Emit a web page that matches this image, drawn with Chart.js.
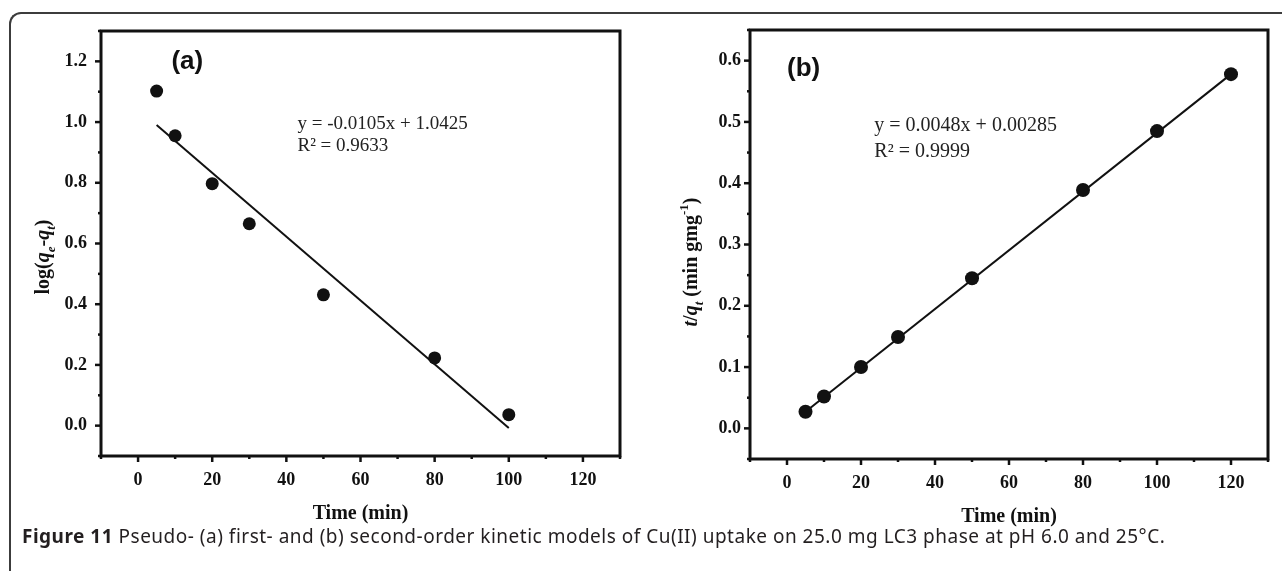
<!DOCTYPE html>
<html>
<head>
<meta charset="utf-8">
<script src="https://cdn.jsdelivr.net/npm/chart.js@4.4.0/dist/chart.umd.min.js"></script>
<style>
body { margin: 0; background: #fff; width: 1282px; height: 571px; overflow: hidden; position: relative; }
#frame { position: absolute; left: 9px; top: 12px; width: 1320px; height: 620px; border-top: 2px solid #3c3c3c; border-left: 2px solid #3c3c3c; border-top-left-radius: 12px; }
#chartA { position: absolute; left: 0; top: 0; }
#chartB { position: absolute; left: 640px; top: 0; }
#caption { position: absolute; left: 22px; top: 525px; font-family: "Noto Sans"; font-size: 19px; letter-spacing: 0.5px; line-height: 22px; color: #231f20; white-space: nowrap; }
</style>
</head>
<body>
<div id="frame"></div>
<canvas id="chartA" width="640" height="540"></canvas>
<canvas id="chartB" width="642" height="540"></canvas>
<div id="caption"><b>Figure 11</b> Pseudo- (a) first- and (b) second-order kinetic models of Cu(II) uptake on 25.0 mg LC3 phase at pH 6.0 and 25°C.</div>
<script>
// Panel (a): pseudo-first-order
const timeA = [5, 10, 20, 30, 50, 80, 100];
const logQ = [1.102, 0.955, 0.797, 0.665, 0.431, 0.223, 0.036];
const fitAx = [5, 100];
const fitAy = [0.99, -0.008];

// Panel (b): pseudo-second-order
const timeB = [5, 10, 20, 30, 50, 80, 100, 120];
const tOverQ = [0.027, 0.052, 0.100, 0.149, 0.245, 0.389, 0.485, 0.578];
const fitBx = [5, 120];
const fitBy = [0.027, 0.578];

// Tick labels
const xTickLabels = [0, 20, 40, 60, 80, 100, 120];
const yTickLabelsA = [0, 0.2, 0.4, 0.6, 0.8, 1.0, 1.2];
const yTickLabelsB = [0, 0.1, 0.2, 0.3, 0.4, 0.5, 0.6];

const serif = '"Liberation Serif", "Times New Roman", serif';
const ink = '#111';

const toPoints = (xs, ys) => xs.map((x, i) => ({ x: x, y: ys[i] }));
const has = (arr, v) => arr.some(a => Math.abs(a - v) < 1e-6);

// draws text with italic / sub / sup parts along a baseline
function richText(ctx, parts, size) {
    const fontFor = p => {
        const sz = (p.sub || p.sup) ? Math.round(size * 0.65) : size;
        return (p.i ? 'italic ' : '') + 'bold ' + sz + 'px ' + serif;
    };
    let w = 0;
    parts.forEach(p => { ctx.font = fontFor(p); w += ctx.measureText(p.t).width; });
    let x = -w / 2;
    parts.forEach(p => {
        ctx.font = fontFor(p);
        const dy = p.sub ? size * 0.28 : (p.sup ? -size * 0.45 : 0);
        ctx.fillText(p.t, x, dy);
        x += ctx.measureText(p.t).width;
    });
}

const panelPlugin = {
    id: 'panel',
    afterDraw(chart, args, opts) {
        const ctx = chart.ctx;
        const a = chart.chartArea;
        const xs = chart.scales.x, ys = chart.scales.y;
        ctx.save();
        ctx.fillStyle = ink;
        ctx.strokeStyle = ink;

        // tick marks (major long, minor short) pointing outward
        ctx.lineWidth = 2.5;
        xs.ticks.forEach(t => {
            const px = xs.getPixelForValue(t.value);
            const len = has(xTickLabels, t.value) ? 6 : 3;
            ctx.beginPath(); ctx.moveTo(px, a.bottom); ctx.lineTo(px, a.bottom + len); ctx.stroke();
        });
        ys.ticks.forEach(t => {
            const py = ys.getPixelForValue(t.value);
            const len = has(opts.yLabels, t.value) ? 6 : 3;
            ctx.beginPath(); ctx.moveTo(a.left, py); ctx.lineTo(a.left - len, py); ctx.stroke();
        });

        // frame
        ctx.lineWidth = 3;
        ctx.strokeRect(a.left, a.top, a.right - a.left, a.bottom - a.top);

        // x title
        ctx.font = 'bold 20px ' + serif;
        ctx.textAlign = 'center';
        ctx.textBaseline = 'middle';
        ctx.fillText('Time (min)', (a.left + a.right) / 2, a.bottom + 58);

        // y title (rotated)
        ctx.save();
        ctx.translate(opts.yTitleX, opts.yTitleY);
        ctx.rotate(-Math.PI / 2);
        ctx.textAlign = 'left';
        ctx.textBaseline = 'alphabetic';
        richText(ctx, opts.yTitle, 20);
        ctx.restore();

        // panel label
        ctx.textAlign = 'left';
        ctx.textBaseline = 'middle';
        ctx.font = 'bold 26px "Liberation Sans", Arial, sans-serif';
        ctx.fillText(opts.label, xs.getPixelForValue(opts.labelAt[0]), ys.getPixelForValue(opts.labelAt[1]));

        // regression equation
        ctx.fillStyle = '#222';
        ctx.font = opts.eqSize + 'px ' + serif;
        const ex = xs.getPixelForValue(opts.eqAt[0]);
        ctx.fillText(opts.eq, ex, ys.getPixelForValue(opts.eqAt[1]));
        ctx.fillText(opts.r2, ex, ys.getPixelForValue(opts.r2At));
        ctx.restore();
    }
};

function makeChart(id, cfg) {
    const tickFont = { family: serif, size: 18, weight: 'bold' };
    new Chart(document.getElementById(id), {
        type: 'scatter',
        data: {
            datasets: [{
                data: toPoints(cfg.xs, cfg.ys),
                backgroundColor: ink,
                borderWidth: 0,
                pointRadius: cfg.radius,
                order: 0
            }, {
                data: toPoints(cfg.fitX, cfg.fitY),
                showLine: true,
                borderColor: ink,
                borderWidth: 2,
                pointRadius: 0,
                order: 1
            }]
        },
        options: {
            responsive: false,
            animation: false,
            layout: { padding: cfg.padding },
            plugins: {
                legend: { display: false },
                tooltip: { enabled: false },
                panel: cfg.panel
            },
            scales: {
                x: {
                    type: 'linear', min: -10, max: 130,
                    grid: { display: false, drawTicks: false },
                    border: { display: false },
                    ticks: {
                        stepSize: 10, autoSkip: false, maxRotation: 0, padding: 14,
                        color: ink, font: tickFont,
                        callback: v => has(xTickLabels, v) ? String(Math.round(v)) : ''
                    },
                    afterFit: s => { s.height = cfg.xHeight; }
                },
                y: {
                    type: 'linear', min: cfg.yMin, max: cfg.yMax,
                    grid: { display: false, drawTicks: false },
                    border: { display: false },
                    ticks: {
                        stepSize: cfg.yStep, autoSkip: false, padding: cfg.yPad,
                        color: ink, font: tickFont,
                        callback: v => has(cfg.panel.yLabels, v) ? (Math.round(v * 10) / 10).toFixed(1) : ''
                    },
                    afterFit: s => { s.width = cfg.yWidth; }
                }
            }
        },
        plugins: [panelPlugin]
    });
}

makeChart('chartA', {
    xs: timeA, ys: logQ, fitX: fitAx, fitY: fitAy, radius: 6.5,
    yMin: -0.1, yMax: 1.3, yStep: 0.1, yPad: 14,
    padding: { top: 31, right: 20, left: 0, bottom: 0 },
    yWidth: 101, xHeight: 84,
    panel: {
        yLabels: yTickLabelsA,
        label: '(a)', labelAt: [9, 1.2],
        eq: 'y = -0.0105x + 1.0425', r2: 'R\u00b2 = 0.9633', eqAt: [43, 0.994], r2At: 0.921, eqSize: 19,
        yTitleX: 49, yTitleY: 257,
        yTitle: [{ t: 'log(' }, { t: 'q', i: true }, { t: 'e', i: true, sub: true }, { t: '-' },
                 { t: 'q', i: true }, { t: 't', i: true, sub: true }, { t: ')' }]
    }
});

makeChart('chartB', {
    xs: timeB, ys: tOverQ, fitX: fitBx, fitY: fitBy, radius: 7,
    yMin: -0.05, yMax: 0.65, yStep: 0.05, yPad: 9,
    padding: { top: 30, right: 9, left: 0, bottom: 0 },
    yWidth: 110, xHeight: 81,
    panel: {
        yLabels: yTickLabelsB,
        label: '(b)', labelAt: [0, 0.587],
        eq: 'y = 0.0048x + 0.00285', r2: 'R\u00b2 = 0.9999', eqAt: [23.6, 0.494], r2At: 0.452, eqSize: 20,
        yTitleX: 57, yTitleY: 262,
        yTitle: [{ t: 't', i: true }, { t: '/' }, { t: 'q', i: true }, { t: 't', i: true, sub: true },
                 { t: ' (min gmg' }, { t: '-1', sup: true }, { t: ')' }]
    }
});
</script>
</body>
</html>
